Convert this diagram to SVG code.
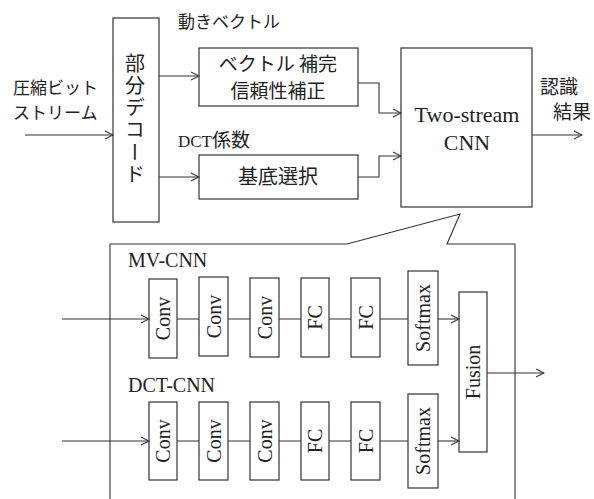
<svg xmlns="http://www.w3.org/2000/svg" width="594" height="499" viewBox="0 0 594 499">
<defs>
<marker id="arr" viewBox="0 0 10 10" refX="9" refY="5" markerWidth="10" markerHeight="10" markerUnits="userSpaceOnUse" orient="auto">
<path d="M1 1 L9 5 L1 9" fill="none" stroke="#333" stroke-width="1.1"/>
</marker>
</defs>
<style>
.box{fill:#fff;stroke:#333;stroke-width:1.2}
.ln{fill:none;stroke:#333;stroke-width:1.1}
.jp{font-family:"Noto Sans CJK JP","Noto Sans",sans-serif;fill:#222}
.se{font-family:"Liberation Serif",serif;fill:#222}
.rot{font-family:"Liberation Serif",serif;font-size:20px;fill:#222;text-anchor:middle}
</style>
<rect width="594" height="499" fill="#fff"/>

<g id="input-label">
<text class="jp" x="13" y="94" font-size="17">圧縮ビット</text>
<text class="jp" x="13" y="119" font-size="17">ストリーム</text>
</g>

<g id="partial-decode">
<rect class="box" x="113" y="18" width="46" height="204"/>
<text class="jp" x="135" y="53" font-size="20" letter-spacing="2.3" style="writing-mode:vertical-rl">部分デコード</text>
</g>

<g id="mv-label"><text class="jp" x="178" y="28" font-size="17">動きベクトル</text></g>

<g id="vector-box">
<rect class="box" x="199" y="48" width="159" height="58"/>
<text class="jp" x="278" y="71" font-size="19" text-anchor="middle">ベクトル 補完</text>
<text class="jp" x="278" y="98" font-size="19" text-anchor="middle">信頼性補正</text>
</g>

<g id="dct-label"><text x="178" y="147"><tspan class="se" font-size="17">DCT</tspan><tspan class="jp" font-size="19">係数</tspan></text></g>

<g id="basis-box">
<rect class="box" x="199" y="155" width="159" height="44"/>
<text class="jp" x="278" y="184" font-size="20" text-anchor="middle">基底選択</text>
</g>

<g id="two-stream">
<rect class="box" x="401" y="48" width="131" height="159"/>
<text class="se" x="467" y="122" font-size="22" text-anchor="middle">Two-stream</text>
<text class="se" x="467" y="150" font-size="22" text-anchor="middle">CNN</text>
</g>

<g id="result-label">
<text class="jp" x="540" y="94" font-size="19">認識</text>
<text class="jp" x="553" y="119" font-size="19">結果</text>
</g>

<g id="callout">
<path class="ln" d="M110 500 V244 H347 L460 214 L447 244 H515 V500" stroke-width="1.2"/>
<text class="se" x="128" y="267" font-size="20">MV-CNN</text>
<text class="se" x="128" y="392" font-size="20">DCT-CNN</text>
</g>

<g id="mv-conv1"><rect class="box" x="149" y="279" width="28" height="79"/><text class="rot" transform="translate(163,318.5) rotate(-90)" dy="7">Conv</text></g>
<g id="mv-conv2"><rect class="box" x="199" y="277" width="29" height="79"/><text class="rot" transform="translate(213.5,316.5) rotate(-90)" dy="7">Conv</text></g>
<g id="mv-conv3"><rect class="box" x="250" y="278" width="29" height="79"/><text class="rot" transform="translate(264.5,317.5) rotate(-90)" dy="7">Conv</text></g>
<g id="mv-fc1"><rect class="box" x="301" y="278" width="28" height="79"/><text class="rot" transform="translate(315,317.5) rotate(-90)" dy="7">FC</text></g>
<g id="mv-fc2"><rect class="box" x="351" y="278" width="29" height="79"/><text class="rot" transform="translate(365.5,317.5) rotate(-90)" dy="7">FC</text></g>
<g id="mv-softmax"><rect class="box" x="408" y="271" width="30" height="94"/><text class="rot" transform="translate(423,318) rotate(-90)" dy="7">Softmax</text></g>

<g id="dct-conv1"><rect class="box" x="149" y="402" width="28" height="78"/><text class="rot" transform="translate(163,441) rotate(-90)" dy="7">Conv</text></g>
<g id="dct-conv2"><rect class="box" x="199" y="402" width="29" height="78"/><text class="rot" transform="translate(213.5,441) rotate(-90)" dy="7">Conv</text></g>
<g id="dct-conv3"><rect class="box" x="250" y="402" width="29" height="78"/><text class="rot" transform="translate(264.5,441) rotate(-90)" dy="7">Conv</text></g>
<g id="dct-fc1"><rect class="box" x="301" y="402" width="28" height="78"/><text class="rot" transform="translate(315,441) rotate(-90)" dy="7">FC</text></g>
<g id="dct-fc2"><rect class="box" x="351" y="402" width="29" height="78"/><text class="rot" transform="translate(365.5,441) rotate(-90)" dy="7">FC</text></g>
<g id="dct-softmax"><rect class="box" x="408" y="394" width="30" height="94"/><text class="rot" transform="translate(423,441) rotate(-90)" dy="7">Softmax</text></g>

<g id="fusion"><rect class="box" x="459" y="292" width="28" height="160"/><text class="rot" transform="translate(473,372) rotate(-90)" dy="7">Fusion</text></g>

<g id="connectors">
<path class="ln" d="M25 135 H113" marker-end="url(#arr)"/>
<path class="ln" d="M159 76 H199" marker-end="url(#arr)"/>
<path class="ln" d="M159 177 H199" marker-end="url(#arr)"/>
<path class="ln" d="M358 83 H379 V113 H401" marker-end="url(#arr)"/>
<path class="ln" d="M358 177 H379 V156 H401" marker-end="url(#arr)"/>
<path class="ln" d="M532 135 H582" marker-end="url(#arr)"/>
<path class="ln" d="M62 319 H149" marker-end="url(#arr)"/>
<path class="ln" d="M177 319 H199 M228 319 H250 M279 319 H301 M329 319 H351 M380 319 H408"/>
<path class="ln" d="M438 319 H459" marker-end="url(#arr)"/>
<path class="ln" d="M62 441 H149" marker-end="url(#arr)"/>
<path class="ln" d="M177 441 H199 M228 441 H250 M279 441 H301 M329 441 H351 M380 441 H408"/>
<path class="ln" d="M438 441 H459" marker-end="url(#arr)"/>
<path class="ln" d="M487 373 H544" marker-end="url(#arr)"/>
</g>
</svg>
